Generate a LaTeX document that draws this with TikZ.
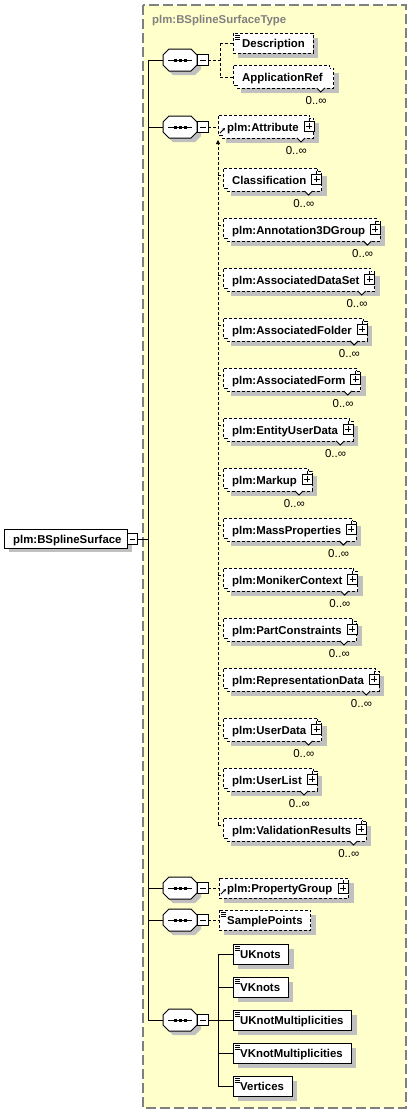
\documentclass[tikz,border=0pt]{standalone}
\usepackage{fontspec}
\setmainfont{Liberation Sans}
\usetikzlibrary{calc,arrows.meta}
\pgfdeclarelayer{back}\pgfdeclarelayer{shad}\pgfdeclarelayer{boxl}
\pgfsetlayers{back,shad,boxl,main}
\definecolor{ylw}{HTML}{FFFFCC}
\definecolor{shd}{HTML}{C0C0C0}
\definecolor{ttl}{HTML}{808080}
\tikzset{
 eltext/.style={font=\fontsize{11.4}{13}\selectfont\bfseries, inner sep=0pt, anchor=base west},
 occ/.style={font=\fontsize{11.5}{13}\selectfont, inner sep=0pt, anchor=base east},
 dsh/.style={dash pattern=on 3pt off 2pt, line width=1pt},
 ln/.style={line width=1pt},
 thinln/.style={line width=0.9pt},
}
% stacked (0..unbounded) optional element
\newcommand{\stk}[6]{%
 \node[eltext] (#1) at (#2+#4,-#3-4) {#5};
 \coordinate (#1-L) at (#2,-#3);
 \path let \p1=(#1.east) in coordinate (#1R) at (\x1+#6,-#3);
 \begin{pgfonlayer}{shad}
  \fill[shd] (#2+8,-#3+4) rectangle ($(#1R)+(5,-16)$);
 \end{pgfonlayer}
 \begin{pgfonlayer}{boxl}
  \filldraw[fill=white, dsh] (#2+4,-#3+9) rectangle ($(#1R)+(0,-11)$);
  \fill[white] (#2,-#3+12) rectangle ($(#1R)+(-4,-8)$);
  \draw[dsh] (#2+4,-#3-8) -- (#2,-#3-8) -- (#2,-#3+12) -- ($(#1R)+(-4,12)$) -- ($(#1R)+(-4,9)$);
 \end{pgfonlayer}
 \filldraw[fill=white, thinln] ($(#1R)+(-17,-11)$) -- ($(#1R)+(-13,-15)$) -- ($(#1R)+(-9,-11)$);
 \node[occ] at ($(#1R)+(-7,-27)$) {0..∞};
}
% plus box centred at a coordinate
\newcommand{\plusbox}[1]{%
 \filldraw[fill=white, thinln] ($(#1)+(-5,-5)$) rectangle ($(#1)+(5,5)$);
 \draw[thinln] ($(#1)+(-3,0)$) -- ($(#1)+(3,0)$) ($(#1)+(0,-3)$) -- ($(#1)+(0,3)$);
 \draw[thinln] ($(#1)+(0,5)$) -- ($(#1)+(0,8)$);
}
\newcommand{\stkp}[5]{%
 \stk{#1}{#2}{#3}{#4}{#5}{15}%
 \coordinate (#1P) at ($(#1R)+(-5,1)$);
 \plusbox{#1P}%
}
% single box: #7 = line style
\newcommand{\sgl}[7]{%
 \node[eltext] (#1) at (#2+#4,-#3-4) {#5};
 \coordinate (#1-L) at (#2,-#3);
 \path let \p1=(#1.east) in coordinate (#1R) at (\x1+#6,-#3);
 \begin{pgfonlayer}{shad}
  \fill[shd] (#2+5,-#3+5) rectangle ($(#1R)+(5,-15)$);
 \end{pgfonlayer}
 \begin{pgfonlayer}{boxl}
  \filldraw[fill=white, #7] (#2,-#3+10) rectangle ($(#1R)+(0,-10)$);
 \end{pgfonlayer}
}
\newcommand{\eqicon}[2]{%
 \draw[line width=0.7pt] (#1+2,-#2+8) -- (#1+7,-#2+8) (#1+2,-#2+6) -- (#1+7,-#2+6) (#1+2,-#2+4) -- (#1+7,-#2+4);
}
\newcommand{\refarrow}[2]{%
 \draw[thinln, -{Stealth[length=3pt,width=3pt]}] (#1+2,-#2-6) -- (#1+7,-#2-1);
}
% sequence compositor
\newcommand{\seqc}[2]{%
 \coordinate (#1) at (163,-#2);
 \coordinate (#1o) at (208,-#2);
 \begin{pgfonlayer}{shad}
  \fill[shd] (173,-#2+7) -- (195,-#2+7) -- (201,-#2+1) -- (201,-#2-9) -- (195,-#2-15) -- (173,-#2-15) -- (167,-#2-9) -- (167,-#2+1) -- cycle;
 \end{pgfonlayer}
 \begin{pgfonlayer}{boxl}
  \filldraw[fill=white, ln] (169,-#2+11) -- (191,-#2+11) -- (197,-#2+5) -- (197,-#2-5) -- (191,-#2-11) -- (169,-#2-11) -- (163,-#2-5) -- (163,-#2+5) -- cycle;
 \end{pgfonlayer}
 \draw[ln] (168,-#2) -- (192,-#2);
 \foreach \dx in {175,180,185} \fill (\dx-1.5,-#2-1.5) rectangle (\dx+1.5,-#2+1.5);
 \filldraw[fill=white, thinln] (197.5,-#2+5.5) rectangle (208,-#2-5.5);
 \draw[thinln] (200,-#2) -- (205.5,-#2);
}
\begin{document}
\begin{tikzpicture}[x=1pt,y=1pt]
\useasboundingbox (0,0) rectangle (411,-1114);
\begin{pgfonlayer}{back}
 \fill[ylw] (143,-5) rectangle (406,-1108);
 \draw[ttl, line width=1.5pt, dash pattern=on 10pt off 4pt] (143,-5) rectangle (406,-1108);
\end{pgfonlayer}
\node[eltext, text=ttl] (title) at (152,-23) {plm:BSplineSurfaceType};

% root element
\node[eltext] (root) at (13,-543) {plm:BSplineSurface};
\begin{pgfonlayer}{shad}
 \fill[shd] (9,-534) rectangle (132,-552);
\end{pgfonlayer}
\begin{pgfonlayer}{boxl}
 \filldraw[fill=white, ln] (4,-529) rectangle (127,-548);
\end{pgfonlayer}
\filldraw[fill=white, thinln] (127.5,-533.5) rectangle (137.5,-544);
\draw[thinln] (130,-539) -- (135,-539);
\coordinate (rooto) at (137.5,-539);
\coordinate (trunkT) at (148,-60);
\coordinate (trunkB) at (148,-1020);
\coordinate (trunkM) at (148,-539);
\draw[ln] (trunkT) -- (trunkB);
\draw[ln] (rooto) -- (trunkM);

% compositors
\seqc{c1}{60}
\seqc{c2}{127}
\seqc{c3}{888}
\seqc{c4}{920}
\seqc{c5}{1020}
\foreach \yy/\cc in {60/c1,127/c2,888/c3,920/c4,1020/c5} \draw[ln] (148,-\yy) -- (\cc);

% group 1
\sgl{desc}{233}{43}{9}{Description}{8}{dsh}
\eqicon{233}{43}
\stk{appref}{233}{77}{9}{ApplicationRef}{11}
\coordinate (g1a) at (220,-60);
\coordinate (g1t) at (220,-43);
\coordinate (g1b) at (220,-77);
\draw[dsh] (c1o) -- (g1a);
\draw[dsh] (g1t) -- (g1b);
\draw[dsh] (g1t) -- (desc-L);
\draw[dsh] (g1b) -- (appref-L);

% group 2
\stkp{attr}{218}{127}{9}{plm:Attribute}
\refarrow{218}{127}
\stkp{class}{223}{180}{9}{Classification}
\stkp{annot}{223}{230}{9}{plm:Annotation3DGroup}
\stkp{adset}{223}{280}{9}{plm:AssociatedDataSet}
\stkp{afold}{223}{330}{9}{plm:AssociatedFolder}
\stkp{aform}{223}{380}{9}{plm:AssociatedForm}
\stkp{eud}{223}{430}{9}{plm:EntityUserData}
\stkp{markup}{223}{480}{9}{plm:Markup}
\stkp{mass}{223}{530}{9}{plm:MassProperties}
\stkp{mon}{223}{580}{9}{plm:MonikerContext}
\stkp{pcon}{223}{630}{9}{plm:PartConstraints}
\stkp{rep}{223}{680}{9}{plm:RepresentationData}
\stkp{ud}{223}{730}{9}{plm:UserData}
\stkp{ul}{223}{780}{9}{plm:UserList}
\stkp{val}{223}{830}{9}{plm:ValidationResults}
\draw[dsh] (c2o) -- (attr-L);
\coordinate (g2b) at (218,-825);
\coordinate (g2t) at (218,-140);
\draw[dsh, -{Triangle[length=4pt,width=4pt]}] (g2b) -- (g2t);
\foreach \yy in {180,230,...,830} \draw[dsh] (218,-\yy+5) -- (223,-\yy+5);

% group 3 and 4
\sgl{propg}{219}{888}{8}{plm:PropertyGroup}{16}{dsh}
\coordinate (propgP) at ($(propgR)+(-5.5,0)$);
\plusbox{propgP}
\refarrow{219}{888}
\draw[dsh] (c3o) -- (propg-L);
\sgl{samp}{219}{920}{8}{SamplePoints}{8}{dsh}
\eqicon{219}{920}
\draw[dsh] (c4o) -- (samp-L);

% group 5
\sgl{uk}{233}{954}{7}{UKnots}{8}{ln}
\eqicon{233}{954}
\sgl{vk}{233}{987}{7}{VKnots}{8}{ln}
\eqicon{233}{987}
\sgl{ukm}{233}{1020}{7}{UKnotMultiplicities}{8}{ln}
\eqicon{233}{1020}
\sgl{vkm}{233}{1053}{7}{VKnotMultiplicities}{8}{ln}
\eqicon{233}{1053}
\sgl{vert}{233}{1086}{7}{Vertices}{8}{ln}
\eqicon{233}{1086}
\coordinate (g5a) at (218,-1020);
\coordinate (g5t) at (218,-954);
\coordinate (g5b) at (218,-1086);
\draw[ln] (c5o) -- (g5a);
\draw[ln] (g5t) -- (g5b);
\foreach \yy/\nn in {954/uk,987/vk,1020/ukm,1053/vkm,1086/vert} \draw[ln] (218,-\yy) -- (\nn-L);
\end{tikzpicture}
\end{document}
